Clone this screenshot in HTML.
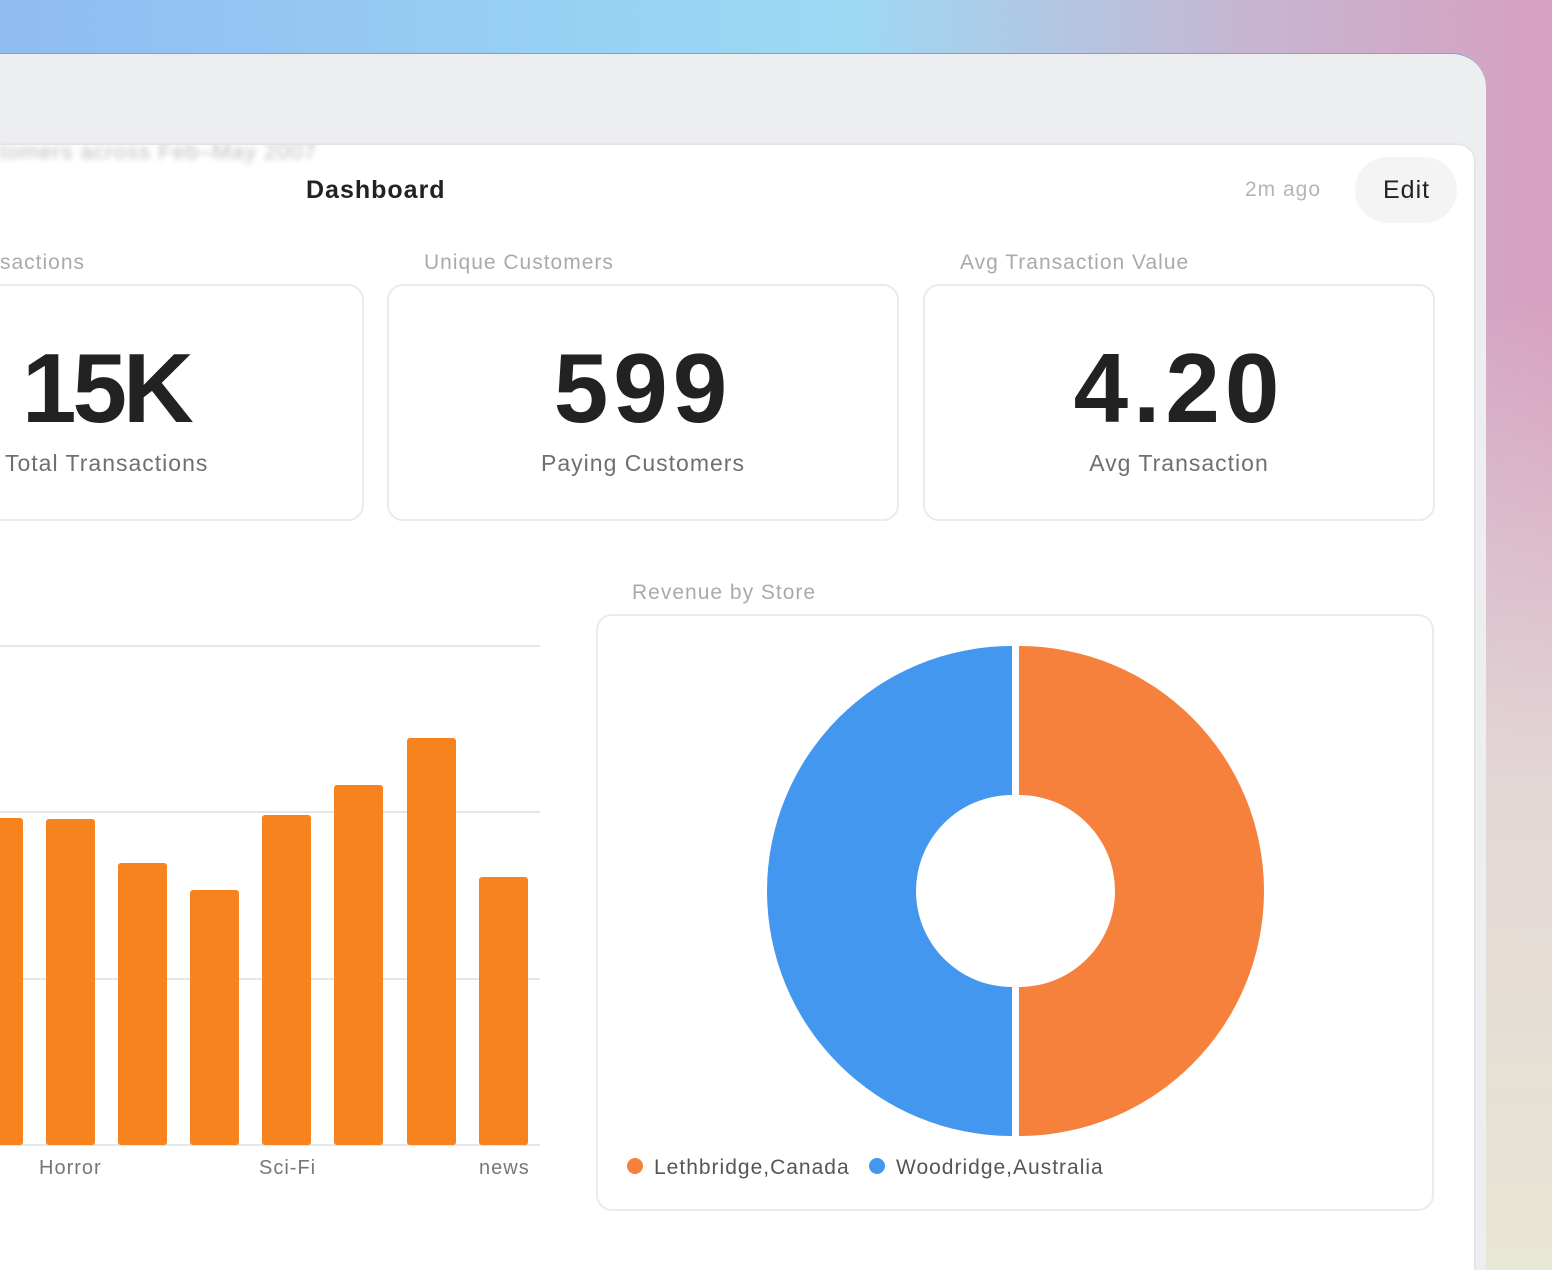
<!DOCTYPE html>
<html style="overflow:hidden;height:1270px"><head><style>
body{margin:0;width:1552px;height:1270px;overflow:hidden;position:relative;font-family:"Liberation Sans",sans-serif;
background:linear-gradient(90deg,#8fbcf1 0%,#99d2f4 40%,#9dd8f3 55%,#c6b6d3 80%,#d7a0bf 100%);}
.bg2{position:absolute;left:1400px;top:300px;width:152px;height:970px;background:linear-gradient(180deg,rgba(215,160,191,0) 0%,#e3d7d6 50%,#e8e6d4 100%);}
.win{position:absolute;left:0;top:53px;width:1486px;height:1217px;background:#edeef0;border-top-right-radius:34px;border-top:1px solid #7fa3cc;}
.panel{position:absolute;left:0;top:145px;width:1474px;height:1125px;background:#fff;border-top-right-radius:16px;box-shadow:0 0 3px rgba(0,0,0,.12);overflow:hidden}
.t{position:absolute;white-space:nowrap}
.card{position:absolute;border:2px solid #ebebeb;border-radius:16px;background:#fff;box-sizing:border-box}
.big{position:absolute;font-weight:bold;font-size:98px;color:#222;text-align:center;width:100%;top:46px;letter-spacing:5px}
.sub{position:absolute;font-size:23px;color:#6f6f6f;text-align:center;width:100%;top:164px;letter-spacing:1px}
.lab{font-size:21px;color:#aaa;letter-spacing:1px}
</style></head><body>
<div class="bg2"></div>
<div class="win"></div>
<div class="panel">
<div class="t" style="left:0;top:-6px;font-size:22px;color:#bbb;filter:blur(3px);letter-spacing:1px">tomers across Feb–May 2007</div>
<div class="t" style="left:306px;top:31px;font-size:25px;font-weight:bold;color:#222;letter-spacing:1px">Dashboard</div>
<div class="t" style="left:1245px;top:33px;font-size:21px;color:#b5b5b5;letter-spacing:1px">2m ago</div>
<div style="position:absolute;left:1355px;top:12px;width:102px;height:66px;border-radius:33px;background:#f4f4f4"></div>
<div class="t" style="left:1383px;top:31px;font-size:25px;color:#222;letter-spacing:1px">Edit</div>
<div class="t lab" style="left:0;top:106px">sactions</div>
<div class="t lab" style="left:424px;top:106px">Unique Customers</div>
<div class="t lab" style="left:960px;top:106px">Avg Transaction Value</div>
<div class="card" style="left:-150px;top:139px;width:514px;height:237px"><div class="big" style="text-align:left;padding-left:170px;letter-spacing:-4px">15K</div><div class="sub" style="text-align:left;padding-left:153px">Total Transactions</div></div>
<div class="card" style="left:387px;top:139px;width:512px;height:237px"><div class="big">599</div><div class="sub">Paying Customers</div></div>
<div class="card" style="left:923px;top:139px;width:512px;height:237px"><div class="big">4.20</div><div class="sub">Avg Transaction</div></div>
<div class="t lab" style="left:632px;top:436px">Revenue by Store</div>
<div class="card" style="left:596px;top:469px;width:838px;height:597px"></div>
</div>
<svg style="position:absolute;left:0;top:0" width="1552" height="1270">
<g stroke="#dedede" stroke-width="1.5"><line x1="0" y1="646" x2="540" y2="646"/><line x1="0" y1="812" x2="540" y2="812"/><line x1="0" y1="979" x2="540" y2="979"/><line x1="0" y1="1145" x2="540" y2="1145"/></g>
<g fill="#f7831f">
<rect x="-10" y="818" width="33" height="327" rx="3"/>
<rect x="46" y="819" width="49" height="326" rx="3"/>
<rect x="118" y="863" width="49" height="282" rx="3"/>
<rect x="190" y="890" width="49" height="255" rx="3"/>
<rect x="262" y="815" width="49" height="330" rx="3"/>
<rect x="334" y="785" width="49" height="360" rx="3"/>
<rect x="407" y="738" width="49" height="407" rx="3"/>
<rect x="479" y="877" width="49" height="268" rx="3"/>
</g>
<g font-size="20" fill="#777" font-family="Liberation Sans,sans-serif" letter-spacing="1">
<text x="39" y="1174">Horror</text><text x="259" y="1174">Sci-Fi</text><text x="479" y="1174">news</text></g>
<path d="M1019,646 A245,245 0 0 1 1019,1136 L1019,987 A96,96 0 0 0 1019,795 Z" fill="#f5813d"/>
<path d="M1012,646 A245,245 0 0 0 1012,1136 L1012,987 A96,96 0 0 1 1012,795 Z" fill="#4497ee"/>
<circle cx="635" cy="1166" r="8" fill="#f5813d"/><circle cx="877" cy="1166" r="8" fill="#4497ee"/>
<g font-size="21" fill="#555" font-family="Liberation Sans,sans-serif" letter-spacing="1"><text x="654" y="1174">Lethbridge,Canada</text><text x="896" y="1174">Woodridge,Australia</text></g>
</svg>
</body></html>
